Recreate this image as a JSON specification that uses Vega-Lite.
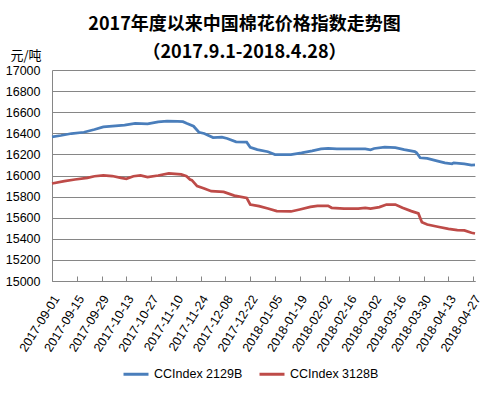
{
  "$schema": "https://vega.github.io/schema/vega-lite/v6.json",
  "width": 423,
  "height": 211,
  "autosize": {"type": "none"},
  "padding": {"left": 52, "top": 70, "right": 18, "bottom": 113},
  "background": "white",
  "title": {
    "text": ["2017年度以来中国棉花价格指数走势图", "（2017.9.1-2018.4.28）"],
    "font": "Noto Sans CJK SC",
    "fontSize": 18,
    "fontWeight": "bold",
    "lineHeight": 28,
    "anchor": "middle",
    "frame": "group",
    "dx": -19,
    "offset": -13,
    "color": "black"
  },
  "config": {"view": {"stroke": null}},
  "data": {
    "values": [
      {"d": "2017-09-01", "s": "CCIndex 2129B", "v": 16367},
      {"d": "2017-09-06", "s": "CCIndex 2129B", "v": 16379},
      {"d": "2017-09-12", "s": "CCIndex 2129B", "v": 16398},
      {"d": "2017-09-19", "s": "CCIndex 2129B", "v": 16410},
      {"d": "2017-09-25", "s": "CCIndex 2129B", "v": 16436},
      {"d": "2017-09-30", "s": "CCIndex 2129B", "v": 16461},
      {"d": "2017-10-12", "s": "CCIndex 2129B", "v": 16477},
      {"d": "2017-10-18", "s": "CCIndex 2129B", "v": 16493},
      {"d": "2017-10-25", "s": "CCIndex 2129B", "v": 16490},
      {"d": "2017-10-31", "s": "CCIndex 2129B", "v": 16509},
      {"d": "2017-11-05", "s": "CCIndex 2129B", "v": 16515},
      {"d": "2017-11-11", "s": "CCIndex 2129B", "v": 16512},
      {"d": "2017-11-14", "s": "CCIndex 2129B", "v": 16510},
      {"d": "2017-11-16", "s": "CCIndex 2129B", "v": 16495},
      {"d": "2017-11-20", "s": "CCIndex 2129B", "v": 16467},
      {"d": "2017-11-23", "s": "CCIndex 2129B", "v": 16410},
      {"d": "2017-11-26", "s": "CCIndex 2129B", "v": 16398},
      {"d": "2017-12-01", "s": "CCIndex 2129B", "v": 16360},
      {"d": "2017-12-06", "s": "CCIndex 2129B", "v": 16363},
      {"d": "2017-12-09", "s": "CCIndex 2129B", "v": 16351},
      {"d": "2017-12-14", "s": "CCIndex 2129B", "v": 16319},
      {"d": "2017-12-20", "s": "CCIndex 2129B", "v": 16316},
      {"d": "2017-12-22", "s": "CCIndex 2129B", "v": 16268},
      {"d": "2017-12-26", "s": "CCIndex 2129B", "v": 16246},
      {"d": "2018-01-01", "s": "CCIndex 2129B", "v": 16225},
      {"d": "2018-01-05", "s": "CCIndex 2129B", "v": 16199},
      {"d": "2018-01-14", "s": "CCIndex 2129B", "v": 16199},
      {"d": "2018-01-20", "s": "CCIndex 2129B", "v": 16215},
      {"d": "2018-01-26", "s": "CCIndex 2129B", "v": 16234},
      {"d": "2018-01-31", "s": "CCIndex 2129B", "v": 16253},
      {"d": "2018-02-04", "s": "CCIndex 2129B", "v": 16256},
      {"d": "2018-02-09", "s": "CCIndex 2129B", "v": 16253},
      {"d": "2018-02-25", "s": "CCIndex 2129B", "v": 16253},
      {"d": "2018-02-28", "s": "CCIndex 2129B", "v": 16244},
      {"d": "2018-03-02", "s": "CCIndex 2129B", "v": 16256},
      {"d": "2018-03-08", "s": "CCIndex 2129B", "v": 16268},
      {"d": "2018-03-14", "s": "CCIndex 2129B", "v": 16265},
      {"d": "2018-03-19", "s": "CCIndex 2129B", "v": 16246},
      {"d": "2018-03-25", "s": "CCIndex 2129B", "v": 16227},
      {"d": "2018-03-26", "s": "CCIndex 2129B", "v": 16215},
      {"d": "2018-03-28", "s": "CCIndex 2129B", "v": 16168},
      {"d": "2018-04-01", "s": "CCIndex 2129B", "v": 16162},
      {"d": "2018-04-07", "s": "CCIndex 2129B", "v": 16136},
      {"d": "2018-04-11", "s": "CCIndex 2129B", "v": 16120},
      {"d": "2018-04-15", "s": "CCIndex 2129B", "v": 16111},
      {"d": "2018-04-16", "s": "CCIndex 2129B", "v": 16120},
      {"d": "2018-04-22", "s": "CCIndex 2129B", "v": 16111},
      {"d": "2018-04-26", "s": "CCIndex 2129B", "v": 16098},
      {"d": "2018-04-28", "s": "CCIndex 2129B", "v": 16100},
      {"d": "2017-09-01", "s": "CCIndex 3128B", "v": 15924},
      {"d": "2017-09-08", "s": "CCIndex 3128B", "v": 15946},
      {"d": "2017-09-14", "s": "CCIndex 3128B", "v": 15962},
      {"d": "2017-09-21", "s": "CCIndex 3128B", "v": 15978},
      {"d": "2017-09-25", "s": "CCIndex 3128B", "v": 15993},
      {"d": "2017-09-30", "s": "CCIndex 3128B", "v": 16000},
      {"d": "2017-10-05", "s": "CCIndex 3128B", "v": 15995},
      {"d": "2017-10-10", "s": "CCIndex 3128B", "v": 15978},
      {"d": "2017-10-13", "s": "CCIndex 3128B", "v": 15969},
      {"d": "2017-10-17", "s": "CCIndex 3128B", "v": 15993},
      {"d": "2017-10-21", "s": "CCIndex 3128B", "v": 16000},
      {"d": "2017-10-25", "s": "CCIndex 3128B", "v": 15984},
      {"d": "2017-10-31", "s": "CCIndex 3128B", "v": 16000},
      {"d": "2017-11-06", "s": "CCIndex 3128B", "v": 16019},
      {"d": "2017-11-13", "s": "CCIndex 3128B", "v": 16010},
      {"d": "2017-11-16", "s": "CCIndex 3128B", "v": 15993},
      {"d": "2017-11-18", "s": "CCIndex 3128B", "v": 15962},
      {"d": "2017-11-19", "s": "CCIndex 3128B", "v": 15956},
      {"d": "2017-11-22", "s": "CCIndex 3128B", "v": 15899},
      {"d": "2017-11-26", "s": "CCIndex 3128B", "v": 15877},
      {"d": "2017-11-30", "s": "CCIndex 3128B", "v": 15851},
      {"d": "2017-12-07", "s": "CCIndex 3128B", "v": 15845},
      {"d": "2017-12-13", "s": "CCIndex 3128B", "v": 15810},
      {"d": "2017-12-20", "s": "CCIndex 3128B", "v": 15788},
      {"d": "2017-12-22", "s": "CCIndex 3128B", "v": 15725},
      {"d": "2017-12-27", "s": "CCIndex 3128B", "v": 15709},
      {"d": "2018-01-01", "s": "CCIndex 3128B", "v": 15687},
      {"d": "2018-01-06", "s": "CCIndex 3128B", "v": 15662},
      {"d": "2018-01-14", "s": "CCIndex 3128B", "v": 15659},
      {"d": "2018-01-19", "s": "CCIndex 3128B", "v": 15678},
      {"d": "2018-01-25", "s": "CCIndex 3128B", "v": 15703},
      {"d": "2018-01-29", "s": "CCIndex 3128B", "v": 15712},
      {"d": "2018-02-04", "s": "CCIndex 3128B", "v": 15712},
      {"d": "2018-02-06", "s": "CCIndex 3128B", "v": 15694},
      {"d": "2018-02-13", "s": "CCIndex 3128B", "v": 15687},
      {"d": "2018-02-21", "s": "CCIndex 3128B", "v": 15687},
      {"d": "2018-02-25", "s": "CCIndex 3128B", "v": 15694},
      {"d": "2018-02-28", "s": "CCIndex 3128B", "v": 15687},
      {"d": "2018-03-05", "s": "CCIndex 3128B", "v": 15700},
      {"d": "2018-03-09", "s": "CCIndex 3128B", "v": 15725},
      {"d": "2018-03-14", "s": "CCIndex 3128B", "v": 15725},
      {"d": "2018-03-18", "s": "CCIndex 3128B", "v": 15694},
      {"d": "2018-03-23", "s": "CCIndex 3128B", "v": 15662},
      {"d": "2018-03-27", "s": "CCIndex 3128B", "v": 15640},
      {"d": "2018-03-29", "s": "CCIndex 3128B", "v": 15557},
      {"d": "2018-04-01", "s": "CCIndex 3128B", "v": 15535},
      {"d": "2018-04-07", "s": "CCIndex 3128B", "v": 15514},
      {"d": "2018-04-13", "s": "CCIndex 3128B", "v": 15495},
      {"d": "2018-04-18", "s": "CCIndex 3128B", "v": 15482},
      {"d": "2018-04-22", "s": "CCIndex 3128B", "v": 15479},
      {"d": "2018-04-26", "s": "CCIndex 3128B", "v": 15457},
      {"d": "2018-04-28", "s": "CCIndex 3128B", "v": 15450}
    ]
  },
  "mark": {"type": "line", "strokeWidth": 2.75},
  "encoding": {
    "x": {
      "field": "d",
      "type": "temporal",
      "scale": {
        "type": "utc",
        "domain": [
          {"year": 2017, "month": 9, "date": 1, "utc": true},
          {"year": 2018, "month": 4, "date": 28, "utc": true}
        ]
      },
      "axis": {
        "title": null,
        "values": [
          {"year": 2017, "month": 9, "date": 1, "utc": true},
          {"year": 2017, "month": 9, "date": 15, "utc": true},
          {"year": 2017, "month": 9, "date": 29, "utc": true},
          {"year": 2017, "month": 10, "date": 13, "utc": true},
          {"year": 2017, "month": 10, "date": 27, "utc": true},
          {"year": 2017, "month": 11, "date": 10, "utc": true},
          {"year": 2017, "month": 11, "date": 24, "utc": true},
          {"year": 2017, "month": 12, "date": 8, "utc": true},
          {"year": 2017, "month": 12, "date": 22, "utc": true},
          {"year": 2018, "month": 1, "date": 5, "utc": true},
          {"year": 2018, "month": 1, "date": 19, "utc": true},
          {"year": 2018, "month": 2, "date": 2, "utc": true},
          {"year": 2018, "month": 2, "date": 16, "utc": true},
          {"year": 2018, "month": 3, "date": 2, "utc": true},
          {"year": 2018, "month": 3, "date": 16, "utc": true},
          {"year": 2018, "month": 3, "date": 30, "utc": true},
          {"year": 2018, "month": 4, "date": 13, "utc": true},
          {"year": 2018, "month": 4, "date": 27, "utc": true}
        ],
        "format": "%Y-%m-%d",
        "labelAngle": -58,
        "labelAlign": "right",
        "labelBaseline": "middle",
        "labelPadding": 20,
        "labelOffset": 4,
        "labelFont": "Liberation Sans",
        "labelFontSize": 12.5,
        "labelColor": "black",
        "labelOverlap": false,
        "labelBound": false,
        "labelFlush": false,
        "tickSize": -5,
        "tickColor": "#868686",
        "domainColor": "#868686",
        "grid": false
      }
    },
    "y": {
      "field": "v",
      "type": "quantitative",
      "scale": {"domain": [15000, 17000], "zero": false, "nice": false},
      "axis": {
        "values": [15000, 15200, 15400, 15600, 15800, 16000, 16200, 16400, 16600, 16800, 17000],
        "format": "d",
        "grid": true,
        "gridColor": "#868686",
        "domainColor": "#868686",
        "ticks": false,
        "labelPadding": 12,
        "labelFont": "Liberation Sans",
        "labelFontSize": 12.5,
        "labelColor": "black",
        "title": "元/吨",
        "titleAngle": 0,
        "titleX": -42,
        "titleY": -15,
        "titleAlign": "left",
        "titleBaseline": "middle",
        "titleFont": "Noto Sans CJK SC",
        "titleFontSize": 13,
        "titleFontWeight": "normal",
        "titleColor": "black"
      }
    },
    "color": {
      "field": "s",
      "type": "nominal",
      "scale": {"domain": ["CCIndex 2129B", "CCIndex 3128B"], "range": ["#4A7EBB", "#BE4B48"]},
      "legend": {
        "title": null,
        "orient": "none",
        "legendX": 70,
        "legendY": 290,
        "direction": "horizontal",
        "symbolType": "stroke",
        "symbolStrokeWidth": 3,
        "symbolSize": 625,
        "labelFont": "Liberation Sans",
        "labelFontSize": 12.5,
        "labelColor": "black",
        "labelOffset": 4,
        "columnPadding": 10
      }
    }
  }
}
